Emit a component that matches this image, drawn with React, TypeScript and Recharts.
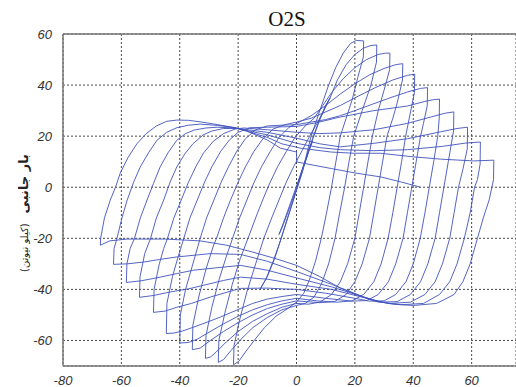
import React from "react";
import { LineChart, Line, XAxis, YAxis, CartesianGrid, ReferenceLine } from "recharts";

type Pt = [number, number];

const xTicks = [-80, -60, -40, -20, 0, 20, 40, 60];
const yTicks = [-60, -40, -20, 0, 20, 40, 60];

// small elastic cycles before the first large one
const initialLoops: Pt[] = [
  [0, 0], [2, 7], [4, 14], [5.5, 18], [4.5, 15], [2, 7], [-0.5, -2], [-3, -10], [-5, -16], [-6, -18.5], [-4.5, -14],
  [-2, -6], [0.5, 2], [3, 10], [5.5, 19], [8, 27], [10, 32], [11.5, 35], [10, 32], [7.5, 25], [5, 17], [2.5, 8],
  [0, -1], [-2.5, -10], [-5, -19], [-7.5, -28], [-10, -35], [-12.5, -40], [-10.5, -36], [-8, -29], [-5.5, -21],
  [-3, -12], [-0.5, -3], [2, 6], [3.5, 13], [5, 20],
];

const cycle1: Pt[] = [
  [5, 20], [8, 30], [11, 40], [13.5, 47], [16, 52.5], [18.5, 56.3], [20.5, 57.5], [23, 57.3],
  [22.9, 51], [21, 43], [19, 34], [17, 27], [15, 20], [13.5, 10], [12, 0], [10.3, -10], [8.5, -20], [6.5, -29],
  [4.5, -36], [2.5, -41.5], [0, -45],
  [-3, -47.5], [-7, -50.5], [-11, -55], [-14.5, -60], [-17.5, -64.5], [-19.8, -68.2], [-21.6, -69.5],
  [-21.4, -62], [-19.5, -52], [-17, -41], [-14, -30], [-11.2, -20], [-8.5, -12], [-6, -5], [-3.5, 2], [-1, 8],
  [2, 14.5], [4.5, 20], [7, 25], [9, 29],
];

const cycle2: Pt[] = [
  [9, 29], [11.5, 35], [14, 42], [17, 48], [20, 52], [23, 54.5], [25.5, 55.5], [27.5, 55.7],
  [27.4, 49], [25.5, 40], [22.5, 30], [19.6, 20], [18, 10], [16.5, 0], [14.8, -10], [13.2, -20], [11, -30],
  [8.5, -38], [6, -43], [3, -45.5], [0, -46.3],
  [-5, -48], [-10, -51], [-15, -55], [-19, -59.5], [-22.5, -64], [-25, -67.5], [-26.8, -68.6],
  [-26.6, -60], [-24.5, -49], [-22, -38], [-19.3, -28], [-16.6, -20], [-14, -12], [-11.6, -5], [-9, 2],
  [-6.5, 8], [-3.5, 14], [-0.5, 19.5], [3, 24], [6, 27],
];

const cycle3: Pt[] = [
  [6, 27], [9, 32], [12, 37], [16, 42.5], [20, 46.8], [24, 50], [28, 52], [30.5, 52.5], [32, 52.5],
  [31.9, 46], [30, 38], [28, 30], [26, 20], [24.5, 10], [23, 0], [21.5, -10], [20, -20], [17.5, -30], [15, -37],
  [12, -42], [8, -45], [4, -45.8], [0, -45.5],
  [-5, -47], [-10, -49.5], [-15, -52.5], [-20, -56.5], [-24, -60.5], [-27.5, -64.5], [-29.5, -66.5], [-31.2, -67],
  [-31, -58], [-29, -47], [-26.5, -36], [-24, -27], [-21.9, -20], [-19.5, -12], [-17, -5], [-14.5, 2], [-12, 8],
  [-9, 14], [-6, 19.5], [-2.5, 23.5], [1, 25.5],
];

const cycle4: Pt[] = [
  [1, 25.5], [5, 28], [10, 32], [15, 36.5], [20, 40.5], [25, 44], [30, 46.5], [34, 48], [36.4, 48.4],
  [36.3, 42], [34.5, 33], [33, 27], [31, 20], [29.5, 10], [28, 0], [26.5, -10], [25, -20], [22.5, -30], [20, -37],
  [17, -42], [13, -44.8], [8, -45.2], [0, -44.5],
  [-5, -45.8], [-10, -47.5], [-15, -50], [-20, -53], [-25, -56.5], [-29.5, -60], [-33, -63], [-35.7, -63.6],
  [-35.5, -54], [-33.5, -43], [-31, -32], [-28.5, -23], [-27.4, -20], [-25, -12], [-22.6, -5], [-20, 2],
  [-17.5, 8], [-14.6, 14], [-11.5, 19], [-8, 22.8], [-4, 24.5],
];

const cycle5: Pt[] = [
  [-4, 24.5], [0, 25.5], [5, 27], [10, 29.5], [15, 32], [20, 35], [27, 39], [33, 42], [38, 43.8], [40.5, 44.3],
  [40.4, 37], [38.8, 28], [37.4, 20], [36, 10], [34.5, 0], [33, -10], [31.4, -20], [29, -30], [26.5, -37],
  [23, -42], [19, -44.5], [14, -45], [7, -44.5], [0, -43.5],
  [-5, -44.5], [-10, -46], [-15, -48], [-20, -50.5], [-25, -53.5], [-30, -56.8], [-34, -59.5], [-37, -60.8], [-40, -61],
  [-39.8, -50], [-38, -40], [-35.5, -30], [-33, -20], [-30.8, -12], [-28.3, -5], [-25.8, 2], [-23.3, 8],
  [-20.5, 14], [-17.5, 19], [-14, 22.5], [-10, 24],
];

const cycle6: Pt[] = [
  [-10, 24], [-5, 24.3], [0, 24.5], [10, 26.5], [15, 28], [20, 30], [26, 32.5], [32, 35], [38, 37.3], [42.5, 38.7], [44.9, 39],
  [44.8, 32], [43.5, 25], [42.5, 20], [41, 10], [39.5, 0], [38, -10], [36.5, -20], [34, -30], [31.5, -37],
  [28, -42], [24, -44.4], [19, -44.6], [10, -43.5], [0, -42],
  [-5, -42.8], [-10, -43.8], [-15, -45.5], [-19.2, -47.5], [-26, -50.8], [-31, -53], [-35.3, -54.8], [-39, -56.3],
  [-42, -57.1], [-44.6, -57.3],
  [-44.4, -45.5], [-42.5, -35], [-40.5, -27], [-38.6, -20], [-36.5, -12], [-34, -5], [-31.5, 2], [-29, 8],
  [-26, 14], [-23, 18.5], [-20, 21.5], [-16, 23.3],
];

const cycle7: Pt[] = [
  [-16, 23.3], [-10, 23.5], [0, 23.8], [7, 25.3], [15, 27.5], [26.5, 30], [38, 31.8], [44, 33.6], [47, 34.3], [49, 34.5],
  [48.9, 27], [48.4, 20], [47, 10], [45.5, 0], [44, -10], [42.4, -20], [40, -30], [37.5, -37], [34, -42],
  [30, -44.5], [25, -44.6], [20, -43.5], [10, -41.5], [0, -40],
  [-5, -39.8], [-10, -39.5], [-19.2, -39.6], [-29.5, -43], [-36, -45.5], [-41, -47], [-45, -48.5], [-49, -49],
  [-48.8, -40], [-47, -30], [-45.5, -24], [-44.2, -20], [-42, -12], [-39.5, -5], [-37, 2], [-34.5, 8],
  [-31.8, 13.5], [-28.5, 18], [-25, 21], [-21, 22.8], [-18, 23.2],
];

const cycle8: Pt[] = [
  [-18, 23.2], [-10, 22.5], [0, 21.5], [8, 21], [15, 21.3], [26.5, 22.5], [38, 25], [46, 27.5], [51, 29], [53.9, 29.5],
  [53.8, 22], [53.5, 20], [52, 10], [50.5, 0], [49, -10], [47.5, -20], [45, -30], [42.5, -37], [39, -42],
  [34.5, -44.8], [28, -45], [23, -43.2], [12, -40], [0, -38],
  [-5, -37], [-10, -36], [-19.2, -35.2], [-25, -36.5], [-31.9, -38.4], [-37, -39.8], [-43.2, -41], [-49, -42.4], [-53.8, -43.1],
  [-53.6, -35], [-52, -26], [-50, -20], [-48, -12], [-45.5, -5], [-43.3, 2], [-41, 8], [-38.3, 13], [-35.5, 17],
  [-32, 20.5], [-29, 22], [-25, 23], [-20, 23],
];

const cycle9: Pt[] = [
  [-20, 23], [-10, 21.5], [0, 19.2], [8, 17], [15, 15.8], [26.5, 17.2], [38, 19], [49.4, 21.7], [55, 23], [58.6, 23.5],
  [58.5, 15], [57, 7], [55.5, 0], [54, -10], [52.5, -20], [50, -30], [47.5, -37], [44, -42], [39, -45], [32, -45.5],
  [27, -44.5], [23, -43], [12, -39], [0, -35.5],
  [-5, -34], [-10, -32.5], [-19.2, -30.6], [-27, -31.5], [-35.3, -32.5], [-41, -33.8], [-46.7, -35.2], [-53, -36.6], [-58.3, -37.3],
  [-58.1, -30], [-57, -24], [-55.5, -20], [-53.5, -12], [-51.2, -5], [-49, 1.5], [-46.7, 8], [-44, 13.5],
  [-41, 18.4], [-38, 21], [-35, 22.4], [-31, 23.2], [-27, 23.5], [-21, 23.2],
];

const cycle10: Pt[] = [
  [-21, 23.2], [-10, 20.5], [0, 17.2], [8, 15.5], [15, 14.7], [26.5, 14.3], [38, 14.7], [50, 16], [58, 17.3], [63, 17.7],
  [62.9, 9], [62, 3], [61, 0], [59.5, -10], [57.5, -20], [55, -30], [52.5, -37], [49, -42], [43.5, -45.5], [36, -46],
  [30, -45.2], [23, -43], [12, -38], [0, -33],
  [-5, -31], [-10, -29], [-19.2, -26.3], [-29.5, -26], [-41, -27.3], [-47, -28.3], [-52.4, -29.3], [-58, -30], [-62.7, -30.2],
  [-62.5, -24], [-61.5, -20], [-59.8, -12], [-58, -5], [-55.8, 2], [-53.5, 8], [-50.7, 13.5], [-47.8, 18.4],
  [-44.5, 21.5], [-41, 23.3], [-37, 24.3], [-33, 24.7], [-27, 24.2], [-21, 23.3],
];

const cycle11: Pt[] = [
  [-21, 23.3], [-10, 19.5], [-5, 17], [1.4, 15.3], [11.7, 13.8], [19.6, 13.3], [28.8, 13.3], [40, 11.9], [49.4, 11],
  [60.7, 10.3], [67.6, 10.6],
  [67.5, 3], [66, -5], [64, -12], [62, -20], [59.5, -30], [57, -37], [54, -42], [48, -45.5], [40, -46.3], [33, -45.8],
  [27, -44.5], [23, -43], [15, -39.5], [8, -35], [0, -30.6],
  [-7, -28], [-15, -25.4], [-24, -22.7], [-33, -21], [-45, -20.3], [-58, -20.3], [-64, -21], [-67.2, -22.7],
  [-67.1, -20], [-65.8, -12], [-63.8, -5], [-62, 0], [-60.4, 5.5], [-57.8, 11.5], [-54.7, 17], [-51.5, 21],
  [-48, 24], [-44.5, 25.8], [-41, 26.3], [-37, 26.2], [-33, 25.6], [-27, 24.5], [-21, 23.3],
];

const finalRun: Pt[] = [
  [-21, 23.3], [-17, 22], [-10, 18.5], [-5.5, 15.3], [0, 13.8], [0.1, 9.9], [6, 8.6], [12, 7.3], [20, 5.6],
  [29, 4], [36, 2], [42.5, 0],
];

const runs = [
  initialLoops, cycle1, cycle2, cycle3, cycle4, cycle5, cycle6, cycle7, cycle8, cycle9, cycle10, cycle11, finalRun,
].map((pts) => pts.map(([x, y]) => ({ x, y })));

const tickStyle = {
  fill: "#333",
  fontSize: 13,
  fontStyle: "italic",
  fontFamily: "'Liberation Sans', Arial, sans-serif",
};

export default function App() {
  return (
    <div style={{ position: "absolute", left: 0, top: 0, width: 516, height: 387, background: "#fff", overflow: "hidden" }}>
      <LineChart width={516} height={387} margin={{ top: 34, right: 0, left: 23, bottom: 0 }}>
        <CartesianGrid stroke="#333" strokeDasharray="2 2" strokeWidth={0.9} />
        <XAxis
          type="number"
          dataKey="x"
          domain={[-80, 75.2]}
          ticks={xTicks}
          allowDataOverflow
          height={21}
          tickLine={false}
          tickMargin={4}
          stroke="#777"
          strokeWidth={1.5}
          tick={tickStyle}
        />
        <YAxis
          type="number"
          dataKey="y"
          domain={[-70, 60]}
          ticks={yTicks}
          allowDataOverflow
          width={40}
          tickLine={false}
          tickMargin={5}
          stroke="#777"
          strokeWidth={1.5}
          tick={tickStyle}
        />
        <ReferenceLine y={60} stroke="#777" strokeWidth={1.5} />
        {runs.map((d, i) => (
          <Line
            key={i}
            data={d}
            dataKey="y"
            type="linear"
            stroke="#4152bc"
            strokeWidth={0.9}
            dot={false}
            isAnimationActive={false}
          />
        ))}
      </LineChart>
      <div
        style={{
          position: "absolute",
          left: 287,
          top: 19,
          transform: "translate(-50%, -50%)",
          fontFamily: "'Liberation Serif', 'Times New Roman', serif",
          fontSize: 21,
          color: "#111",
          whiteSpace: "nowrap",
        }}
      >
        O2S
      </div>
      <div
        dir="rtl"
        style={{
          position: "absolute",
          left: 22,
          top: 213,
          transform: "translate(-50%, -50%) rotate(-90deg)",
          fontFamily: "'DejaVu Sans', sans-serif",
          color: "#222",
          whiteSpace: "nowrap",
        }}
      >
        <span style={{ fontSize: 13, fontWeight: "bold" }}>بار جانبی</span>
        <span style={{ fontSize: 10, marginRight: 10 }}>(کیلو نیوتن)</span>
      </div>
    </div>
  );
}
